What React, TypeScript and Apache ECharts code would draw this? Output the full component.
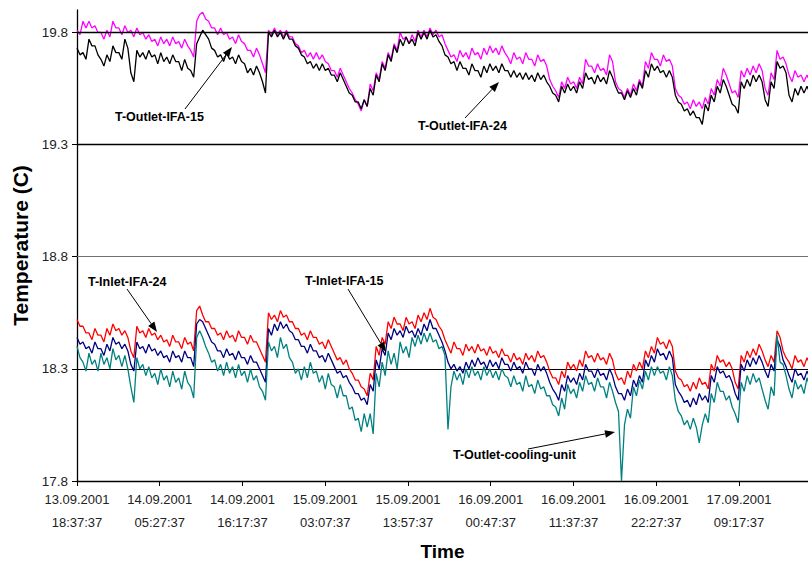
import React, { useEffect, useRef } from "react";
import * as echarts from "echarts";

// ---- data ----
const START_UTC = Date.UTC(2001, 8, 13, 18, 37, 37); // 13.09.2001 18:37:37
const SAMPLE_STEP_MIN = 23.5; // sampling step of the traces, minutes
const X_MAX_MIN = 5742; // right edge of the plot, minutes after start
const X_TICK_MIN = 650; // 10 h 50 min between tick labels
const X_TICKS = [0, 650, 1300, 1950, 2600, 3250, 3900, 4550, 5200];
const Y_MIN = 17.8;
const Y_MAX = 19.9;
const Y_TICKS = [17.8, 18.3, 18.8, 19.3, 19.8];
const GRID_LINES = [18.3, 18.8, 19.3, 19.8];

const OUTLET_IFA_15 = [
  19.73, 19.7, 19.71, 19.68, 19.77, 19.74, 19.74, 19.7, 19.68, 19.65, 19.7, 19.67, 19.74, 19.71, 19.71, 19.68, 19.77, 19.73, 19.62, 19.58,
  19.72, 19.69, 19.71, 19.68, 19.72, 19.69, 19.7, 19.66, 19.71, 19.67, 19.69, 19.66, 19.7, 19.67, 19.67, 19.63, 19.68, 19.64, 19.63, 19.6,
  19.75, 19.78, 19.81, 19.79, 19.77, 19.73, 19.72, 19.69, 19.7, 19.67, 19.71, 19.68, 19.69, 19.66, 19.7, 19.67, 19.66, 19.62, 19.64, 19.61,
  19.65, 19.62, 19.58, 19.53, 19.8, 19.78, 19.81, 19.78, 19.8, 19.77, 19.8, 19.77, 19.77, 19.74, 19.73, 19.7, 19.69, 19.66, 19.67, 19.64,
  19.66, 19.63, 19.66, 19.63, 19.64, 19.61, 19.61, 19.58, 19.62, 19.59, 19.56, 19.53, 19.52, 19.49, 19.49, 19.46, 19.5, 19.47, 19.55, 19.52,
  19.61, 19.58, 19.66, 19.63, 19.7, 19.67, 19.74, 19.71, 19.77, 19.74, 19.78, 19.75, 19.77, 19.74, 19.8, 19.77, 19.8, 19.77, 19.81, 19.78,
  19.79, 19.76, 19.74, 19.7, 19.69, 19.66, 19.67, 19.63, 19.67, 19.64, 19.64, 19.61, 19.66, 19.63, 19.63, 19.6, 19.65, 19.62, 19.66, 19.63,
  19.65, 19.62, 19.66, 19.63, 19.63, 19.6, 19.63, 19.6, 19.62, 19.59, 19.62, 19.59, 19.61, 19.58, 19.62, 19.59, 19.61, 19.58, 19.56, 19.53,
  19.52, 19.49, 19.56, 19.53, 19.57, 19.54, 19.56, 19.53, 19.58, 19.55, 19.62, 19.59, 19.6, 19.57, 19.61, 19.58, 19.6, 19.57, 19.63, 19.6,
  19.56, 19.53, 19.53, 19.5, 19.54, 19.51, 19.55, 19.52, 19.58, 19.55, 19.63, 19.6, 19.66, 19.63, 19.65, 19.62, 19.63, 19.6, 19.63, 19.6,
  19.52, 19.49, 19.48, 19.45, 19.46, 19.43, 19.45, 19.42, 19.42, 19.39, 19.48, 19.45, 19.52, 19.49, 19.56, 19.53, 19.59, 19.56, 19.52, 19.48,
  19.47, 19.44, 19.58, 19.55, 19.59, 19.56, 19.61, 19.58, 19.61, 19.58, 19.5, 19.47, 19.58, 19.55, 19.67, 19.64, 19.65, 19.62, 19.52, 19.49,
  19.55, 19.52, 19.56, 19.53, 19.56, 19.53,
];

const OUTLET_IFA_24 = [
  19.81, 19.79, 19.85, 19.82, 19.85, 19.82, 19.83, 19.8, 19.8, 19.77, 19.81, 19.78, 19.85, 19.82, 19.82, 19.79, 19.83, 19.8, 19.81, 19.78,
  19.82, 19.79, 19.8, 19.77, 19.79, 19.76, 19.77, 19.74, 19.78, 19.75, 19.77, 19.74, 19.78, 19.75, 19.76, 19.73, 19.77, 19.74, 19.72, 19.69,
  19.85, 19.88, 19.89, 19.86, 19.85, 19.82, 19.82, 19.79, 19.82, 19.79, 19.8, 19.77, 19.78, 19.75, 19.79, 19.76, 19.75, 19.72, 19.72, 19.69,
  19.73, 19.7, 19.66, 19.62, 19.81, 19.79, 19.82, 19.79, 19.81, 19.78, 19.81, 19.78, 19.78, 19.75, 19.74, 19.71, 19.72, 19.69, 19.71, 19.68,
  19.71, 19.68, 19.7, 19.67, 19.66, 19.63, 19.63, 19.6, 19.64, 19.61, 19.58, 19.55, 19.53, 19.5, 19.48, 19.45, 19.5, 19.47, 19.57, 19.54,
  19.62, 19.59, 19.67, 19.64, 19.71, 19.68, 19.75, 19.72, 19.8, 19.77, 19.78, 19.75, 19.79, 19.76, 19.81, 19.78, 19.81, 19.78, 19.82, 19.79,
  19.81, 19.78, 19.79, 19.75, 19.72, 19.69, 19.7, 19.67, 19.72, 19.69, 19.71, 19.68, 19.73, 19.7, 19.71, 19.68, 19.73, 19.7, 19.74, 19.71,
  19.73, 19.7, 19.74, 19.71, 19.69, 19.66, 19.71, 19.68, 19.69, 19.66, 19.71, 19.68, 19.68, 19.65, 19.7, 19.67, 19.68, 19.65, 19.59, 19.56,
  19.54, 19.51, 19.58, 19.55, 19.6, 19.57, 19.58, 19.55, 19.6, 19.57, 19.68, 19.65, 19.65, 19.62, 19.66, 19.63, 19.64, 19.61, 19.7, 19.67,
  19.58, 19.55, 19.54, 19.51, 19.55, 19.52, 19.57, 19.54, 19.59, 19.56, 19.67, 19.64, 19.71, 19.68, 19.68, 19.65, 19.7, 19.67, 19.68, 19.65,
  19.55, 19.52, 19.51, 19.48, 19.49, 19.46, 19.5, 19.47, 19.49, 19.46, 19.51, 19.48, 19.55, 19.52, 19.59, 19.56, 19.64, 19.61, 19.57, 19.53,
  19.54, 19.51, 19.63, 19.6, 19.64, 19.61, 19.65, 19.62, 19.66, 19.63, 19.55, 19.52, 19.62, 19.59, 19.72, 19.68, 19.69, 19.66, 19.61, 19.58,
  19.63, 19.6, 19.61, 19.58, 19.61, 19.58,
];

const INLET_IFA_24 = [
  18.52, 18.49, 18.49, 18.46, 18.46, 18.43, 18.48, 18.45, 18.45, 18.42, 18.48, 18.45, 18.5, 18.47, 18.48, 18.45, 18.47, 18.44, 18.38, 18.35,
  18.49, 18.46, 18.47, 18.44, 18.48, 18.45, 18.46, 18.43, 18.45, 18.42, 18.43, 18.4, 18.45, 18.42, 18.42, 18.39, 18.44, 18.41, 18.42, 18.38,
  18.56, 18.58, 18.54, 18.51, 18.51, 18.48, 18.48, 18.45, 18.46, 18.43, 18.47, 18.44, 18.45, 18.42, 18.47, 18.44, 18.44, 18.41, 18.45, 18.42,
  18.42, 18.39, 18.36, 18.33, 18.55, 18.52, 18.54, 18.51, 18.56, 18.53, 18.54, 18.51, 18.51, 18.48, 18.48, 18.45, 18.46, 18.43, 18.47, 18.44,
  18.44, 18.41, 18.42, 18.39, 18.43, 18.4, 18.37, 18.34, 18.35, 18.32, 18.34, 18.3, 18.28, 18.25, 18.25, 18.22, 18.21, 18.18, 18.28, 18.25,
  18.4, 18.36, 18.44, 18.41, 18.51, 18.48, 18.53, 18.5, 18.5, 18.47, 18.53, 18.5, 18.51, 18.48, 18.54, 18.51, 18.55, 18.52, 18.57, 18.53,
  18.52, 18.49, 18.47, 18.43, 18.4, 18.37, 18.42, 18.39, 18.39, 18.36, 18.41, 18.38, 18.4, 18.37, 18.41, 18.38, 18.39, 18.36, 18.4, 18.37,
  18.38, 18.35, 18.39, 18.36, 18.36, 18.33, 18.37, 18.34, 18.35, 18.32, 18.37, 18.34, 18.36, 18.33, 18.38, 18.35, 18.36, 18.33, 18.29, 18.26,
  18.26, 18.23, 18.29, 18.26, 18.33, 18.3, 18.32, 18.29, 18.34, 18.31, 18.38, 18.35, 18.36, 18.33, 18.37, 18.34, 18.35, 18.32, 18.37, 18.34,
  18.28, 18.25, 18.26, 18.23, 18.29, 18.26, 18.32, 18.29, 18.33, 18.3, 18.38, 18.35, 18.4, 18.37, 18.44, 18.41, 18.42, 18.39, 18.43, 18.4,
  18.29, 18.26, 18.25, 18.22, 18.23, 18.2, 18.24, 18.21, 18.26, 18.23, 18.24, 18.21, 18.32, 18.29, 18.36, 18.33, 18.34, 18.31, 18.33, 18.3,
  18.24, 18.21, 18.36, 18.33, 18.38, 18.35, 18.39, 18.36, 18.41, 18.38, 18.34, 18.31, 18.36, 18.33, 18.47, 18.44, 18.38, 18.35, 18.33, 18.3,
  18.36, 18.33, 18.34, 18.31, 18.35, 18.32,
];

const INLET_IFA_15 = [
  18.44, 18.41, 18.42, 18.39, 18.4, 18.37, 18.42, 18.39, 18.39, 18.36, 18.41, 18.38, 18.44, 18.41, 18.42, 18.39, 18.41, 18.38, 18.32, 18.29,
  18.42, 18.39, 18.4, 18.37, 18.41, 18.38, 18.39, 18.36, 18.38, 18.35, 18.36, 18.33, 18.38, 18.35, 18.36, 18.33, 18.38, 18.35, 18.35, 18.31,
  18.5, 18.52, 18.51, 18.48, 18.45, 18.42, 18.41, 18.38, 18.38, 18.35, 18.39, 18.36, 18.37, 18.34, 18.38, 18.35, 18.35, 18.32, 18.36, 18.33,
  18.33, 18.3, 18.27, 18.24, 18.48, 18.45, 18.5, 18.47, 18.51, 18.48, 18.5, 18.47, 18.46, 18.43, 18.43, 18.4, 18.4, 18.37, 18.41, 18.38,
  18.38, 18.35, 18.36, 18.33, 18.37, 18.34, 18.31, 18.28, 18.29, 18.26, 18.27, 18.24, 18.22, 18.19, 18.19, 18.16, 18.17, 18.14, 18.23, 18.2,
  18.34, 18.3, 18.39, 18.36, 18.46, 18.43, 18.48, 18.45, 18.47, 18.44, 18.49, 18.46, 18.47, 18.44, 18.48, 18.45, 18.5, 18.47, 18.52, 18.48,
  18.48, 18.45, 18.42, 18.38, 18.33, 18.3, 18.32, 18.29, 18.31, 18.28, 18.33, 18.3, 18.34, 18.31, 18.35, 18.32, 18.33, 18.3, 18.34, 18.31,
  18.33, 18.3, 18.35, 18.32, 18.32, 18.29, 18.33, 18.3, 18.31, 18.28, 18.33, 18.3, 18.3, 18.27, 18.32, 18.29, 18.31, 18.28, 18.24, 18.21,
  18.19, 18.16, 18.23, 18.2, 18.27, 18.24, 18.26, 18.23, 18.28, 18.25, 18.32, 18.29, 18.29, 18.26, 18.3, 18.27, 18.28, 18.25, 18.3, 18.27,
  18.22, 18.19, 18.19, 18.16, 18.21, 18.18, 18.25, 18.22, 18.27, 18.24, 18.34, 18.31, 18.36, 18.33, 18.39, 18.36, 18.37, 18.34, 18.38, 18.35,
  18.23, 18.2, 18.18, 18.15, 18.16, 18.13, 18.17, 18.14, 18.19, 18.16, 18.18, 18.15, 18.27, 18.24, 18.31, 18.28, 18.29, 18.26, 18.27, 18.24,
  18.19, 18.16, 18.32, 18.29, 18.34, 18.31, 18.35, 18.32, 18.36, 18.33, 18.29, 18.26, 18.32, 18.29, 18.43, 18.4, 18.34, 18.31, 18.27, 18.24,
  18.3, 18.27, 18.28, 18.25, 18.29, 18.26,
];

const OUTLET_COOLING_UNIT = [
  18.4, 18.35, 18.33, 18.29, 18.37, 18.32, 18.34, 18.29, 18.37, 18.32, 18.35, 18.3, 18.39, 18.34, 18.36, 18.31, 18.36, 18.3, 18.22, 18.15,
  18.35, 18.3, 18.32, 18.27, 18.31, 18.26, 18.28, 18.23, 18.3, 18.25, 18.27, 18.22, 18.29, 18.24, 18.26, 18.21, 18.29, 18.24, 18.22, 18.17,
  18.44, 18.47, 18.44, 18.4, 18.37, 18.33, 18.34, 18.29, 18.32, 18.27, 18.33, 18.28, 18.31, 18.26, 18.32, 18.27, 18.29, 18.24, 18.3, 18.25,
  18.27, 18.22, 18.2, 18.16, 18.42, 18.38, 18.4, 18.35, 18.44, 18.39, 18.41, 18.35, 18.33, 18.28, 18.3, 18.25, 18.31, 18.26, 18.33, 18.28,
  18.29, 18.24, 18.27, 18.21, 18.28, 18.23, 18.22, 18.17, 18.23, 18.18, 18.18, 18.12, 18.13, 18.07, 18.08, 18.02, 18.1, 18.04, 18.1, 18.01,
  18.28, 18.22, 18.33, 18.27, 18.38, 18.32, 18.37, 18.3, 18.42, 18.37, 18.4, 18.35, 18.44, 18.4, 18.45, 18.41, 18.46, 18.42, 18.46, 18.42,
  18.43, 18.39, 18.4, 18.36, 18.03, 18.22, 18.29, 18.25, 18.28, 18.23, 18.3, 18.26, 18.31, 18.27, 18.29, 18.25, 18.31, 18.27, 18.3, 18.26,
  18.29, 18.25, 18.3, 18.27, 18.26, 18.22, 18.27, 18.23, 18.24, 18.2, 18.27, 18.22, 18.23, 18.19, 18.25, 18.21, 18.22, 18.18, 18.18, 18.14,
  18.13, 18.09, 18.17, 18.12, 18.23, 18.19, 18.21, 18.17, 18.24, 18.2, 18.27, 18.23, 18.24, 18.2, 18.26, 18.22, 18.22, 18.17, 18.24, 18.2,
  18.15, 18.11, 17.8, 18.05, 18.12, 18.08, 18.22, 18.18, 18.25, 18.21, 18.29, 18.25, 18.31, 18.27, 18.31, 18.28, 18.29, 18.25, 18.31, 18.27,
  18.16, 18.11, 18.09, 18.05, 18.07, 18.03, 18.08, 18.04, 17.97, 18.05, 18.1, 18.06, 18.19, 18.15, 18.24, 18.2, 18.2, 18.16, 18.18, 18.13,
  18.1, 18.06, 18.24, 18.2, 18.27, 18.23, 18.28, 18.24, 18.26, 18.21, 18.16, 18.12, 18.22, 18.18, 18.45, 18.33, 18.32, 18.27, 18.21, 18.17,
  18.25, 18.21, 18.23, 18.19, 18.26, 18.22,
];

const SERIES_DEFS = [
  { name: "T-Outlet-IFA-24", color: "#FF00FF", values: OUTLET_IFA_24 },
  { name: "T-Outlet-IFA-15", color: "#000000", values: OUTLET_IFA_15 },
  { name: "T-Inlet-IFA-24", color: "#FF0000", values: INLET_IFA_24 },
  { name: "T-Inlet-IFA-15", color: "#000080", values: INLET_IFA_15 },
  { name: "T-Outlet-cooling-unit", color: "#008080", values: OUTLET_COOLING_UNIT },
];

// annotation labels with arrows (pixel placement of the callouts)
const CALLOUTS = [
  { label: "T-Outlet-IFA-15", tx: 115, ty: 117, from: [185, 109], to: [232, 47] },
  { label: "T-Outlet-IFA-24", tx: 418, ty: 126, from: [465, 118], to: [499, 82] },
  { label: "T-Inlet-IFA-24", tx: 88, ty: 282, from: [127, 289], to: [157, 332] },
  { label: "T-Inlet-IFA-15", tx: 305, ty: 281, from: [348, 289], to: [386, 352] },
  { label: "T-Outlet-cooling-unit", tx: 453, ty: 455, from: [528, 449], to: [615, 432] },
];

const FONT = '"Liberation Sans", Arial, sans-serif';

function pad(n: number) {
  return n < 10 ? "0" + n : "" + n;
}

function formatTime(min: number) {
  const d = new Date(START_UTC + min * 60000);
  return (
    pad(d.getUTCDate()) + "." + pad(d.getUTCMonth() + 1) + "." + d.getUTCFullYear() +
    "\n" + pad(d.getUTCHours()) + ":" + pad(d.getUTCMinutes()) + ":" + pad(d.getUTCSeconds())
  );
}

function calloutGraphics(c: any) {
  const [fx, fy] = c.from;
  const [tx, ty] = c.to;
  const dx = tx - fx;
  const dy = ty - fy;
  const L = Math.hypot(dx, dy);
  const ux = dx / L;
  const uy = dy / L;
  const hl = 10;
  const hw = 3.8;
  const bx = tx - ux * hl;
  const by = ty - uy * hl;
  return [
    {
      type: "line",
      shape: { x1: fx, y1: fy, x2: bx, y2: by },
      style: { stroke: "#000", lineWidth: 1 },
      z: 100,
    },
    {
      type: "polygon",
      shape: {
        points: [
          [tx, ty],
          [bx - uy * hw, by + ux * hw],
          [bx + uy * hw, by - ux * hw],
        ],
      },
      style: { fill: "#000" },
      z: 100,
    },
    {
      type: "text",
      x: c.tx,
      y: c.ty,
      style: {
        text: c.label,
        fill: "#000",
        fontSize: 12.5,
        fontWeight: "bold",
        fontFamily: FONT,
        verticalAlign: "middle",
        align: "left",
      },
      z: 100,
    },
  ];
}

export default function App() {
  const ref = useRef<HTMLDivElement>(null);

  useEffect(() => {
    if (!ref.current) return;
    const chart = echarts.init(ref.current, null, { renderer: "svg" });

    const series: any[] = SERIES_DEFS.map((s, si) => ({
      name: s.name,
      type: "line",
      showSymbol: false,
      symbol: "none",
      animation: false,
      lineStyle: { color: s.color, width: 1.3 },
      itemStyle: { color: s.color },
      data: s.values.map((v, i) => [i * SAMPLE_STEP_MIN, v]),
      z: 3 + si,
    }));

    series.unshift({
      name: "grid",
      type: "line",
      data: [],
      silent: true,
      z: 1,
      markLine: {
        silent: true,
        symbol: "none",
        label: { show: false },
        animation: false,
        data: GRID_LINES.map((v) => ({
          yAxis: v,
          lineStyle: {
            color: v === 18.8 ? "#707070" : "#000",
            width: v >= 19.3 ? 1.3 : 1,
            type: "solid",
          },
        })),
      },
    });

    chart.setOption({
      animation: false,
      backgroundColor: "#fff",
      grid: { left: 77, right: 0, top: 10, bottom: 86, containLabel: false },
      xAxis: {
        type: "value",
        min: 0,
        max: X_MAX_MIN,
        interval: X_TICK_MIN,
        name: "Time",
        nameLocation: "middle",
        nameGap: 61,
        nameTextStyle: { fontSize: 19, fontWeight: "bold", fontFamily: FONT, color: "#000" },
        axisLine: { show: true, onZero: false, lineStyle: { color: "#000", width: 1.3 } },
        axisTick: { show: true, length: 5, lineStyle: { color: "#000" }, customValues: X_TICKS },
        axisLabel: {
          customValues: X_TICKS,
          margin: 7,
          fontSize: 13,
          lineHeight: 23,
          color: "#222",
          fontFamily: FONT,
          formatter: (v: number) => (v % X_TICK_MIN === 0 ? formatTime(v) : ""),
        },
        splitLine: { show: false },
      },
      yAxis: {
        type: "value",
        min: Y_MIN,
        max: Y_MAX,
        name: "Temperature (C)",
        nameLocation: "middle",
        nameGap: 41,
        nameTextStyle: { fontSize: 21, fontWeight: "bold", fontFamily: FONT, color: "#000" },
        axisLine: { show: true, onZero: false, lineStyle: { color: "#000", width: 1.3 } },
        axisTick: { show: true, length: 5, lineStyle: { color: "#000" }, customValues: Y_TICKS },
        axisLabel: {
          customValues: Y_TICKS,
          margin: 9,
          fontSize: 13.5,
          color: "#222",
          fontFamily: FONT,
          formatter: (v: number) => v.toFixed(1),
        },
        splitLine: { show: false },
      },
      series,
      graphic: CALLOUTS.flatMap(calloutGraphics),
    });

    return () => chart.dispose();
  }, []);

  return (
    <div
      ref={ref}
      style={{ position: "absolute", left: 0, top: 0, width: 808, height: 567, background: "#fff" }}
    />
  );
}
